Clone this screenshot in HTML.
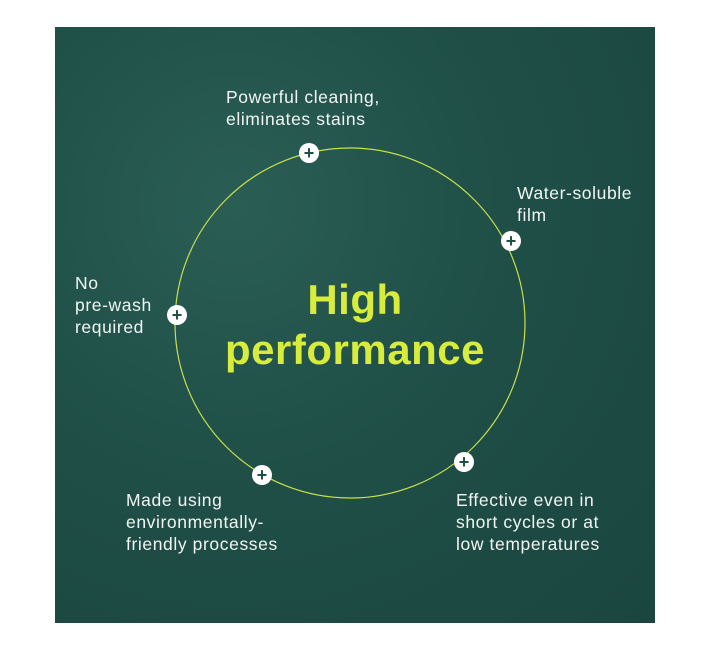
<!DOCTYPE html>
<html><head><style>
body{margin:0;width:713px;height:653px;background:#fff;position:relative;overflow:hidden;font-family:"Liberation Sans",sans-serif}
.bg{position:absolute;left:55px;top:27px;width:600px;height:596px;background:radial-gradient(circle at 30% 30%,#2a5e55 0%,#1f4f47 45%,#1a463f 100%)}
.t{position:absolute;color:#f2f5f3;font-size:17.5px;line-height:22px;letter-spacing:0.6px;white-space:nowrap}
.p{position:absolute;width:20px;height:20px;border-radius:50%;background:#fff;color:#1f4f47;font-size:18px;font-weight:bold;line-height:20px;text-align:center;margin:-10px 0 0 -10px}
.h{position:absolute;left:155px;top:275px;width:400px;text-align:center;color:#d8ec3c;font-weight:bold;font-size:42px;line-height:50px;letter-spacing:0.5px}
</style></head><body>
<div class="bg"></div>
<svg style="position:absolute;left:0;top:0" width="713" height="653"><circle cx="350" cy="323" r="175" fill="none" stroke="#c9e04c" stroke-width="1.2"/></svg>
<div class="h">High<br>performance</div>
<div class="t" style="left:226px;top:86px">Powerful cleaning,<br>eliminates stains</div>
<div class="t" style="left:517px;top:182px">Water-soluble<br>film</div>
<div class="t" style="left:75px;top:272px">No<br>pre-wash<br>required</div>
<div class="t" style="left:126px;top:489px">Made using<br>environmentally-<br>friendly processes</div>
<div class="t" style="left:456px;top:489px">Effective even in<br>short cycles or at<br>low temperatures</div>
<div class="p" style="left:309px;top:153px">+</div>
<div class="p" style="left:511px;top:241px">+</div>
<div class="p" style="left:177px;top:315px">+</div>
<div class="p" style="left:262px;top:475px">+</div>
<div class="p" style="left:464px;top:462px">+</div>
</body></html>
